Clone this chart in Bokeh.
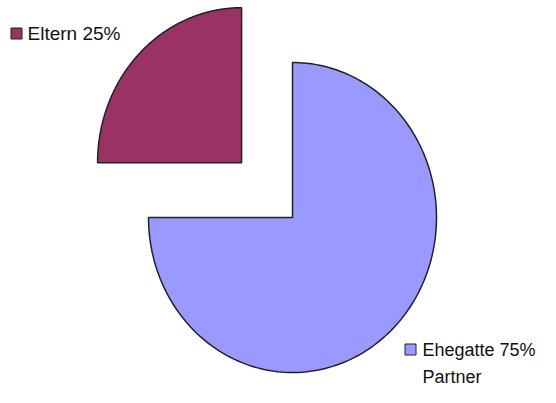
import numpy as np
from bokeh.plotting import figure
from bokeh.models import Range1d, Label, ColumnDataSource
from bokeh.embed import file_html
from bokeh.resources import INLINE

# Data
categories = ["Ehegatte", "Eltern"]
shares = [75, 25]
colors = ["#9999FF", "#993366"]
label_texts = ["Ehegatte 75%", "Eltern 25%"]
explode = [0.0, 0.5]
extra_text = "Partner"

W, H = 540, 387
# pixel scale of unit radius (slightly elliptical pie as in reference)
rx, ry = 144.0, 155.0
cx_px, cy_px = 292.0, 217.0  # pie centre in figure pixels (from top-left)

p = figure(width=W, height=H, output_backend="svg", toolbar_location=None,
           x_range=Range1d(-cx_px / rx, (W - cx_px) / rx),
           y_range=Range1d(-(H - cy_px) / ry, cy_px / ry),
           min_border=0, outline_line_color=None)
p.axis.visible = False
p.grid.visible = False
p.background_fill_color = "white"
p.border_fill_color = "white"

# build slices: start at 12 o'clock, go clockwise
total = float(sum(shares))
start = np.pi / 2
xs, ys = [], []
for v, ex in zip(shares, explode):
    sweep = 2 * np.pi * v / total
    a0, a1 = start, start - sweep
    mid = (a0 + a1) / 2
    ox, oy = ex * np.cos(mid), ex * np.sin(mid)
    t = np.linspace(a0, a1, 200)
    xs.append([ox] + list(ox + np.cos(t)) + [ox])
    ys.append([oy] + list(oy + np.sin(t)) + [oy])
    start = a1

src = ColumnDataSource(dict(xs=xs, ys=ys, color=colors))
p.patches("xs", "ys", source=src, fill_color="color", line_color="#222222", line_width=1.5)

def px2data(px, py):
    return (px - cx_px) / rx, (cy_px - py) / ry

font = "Liberation Sans"
# Eltern label (top-left)
mx, my = px2data(16, 33)
tx, ty = px2data(27, 33)
p.scatter([mx], [my], marker="square", size=11, fill_color=colors[1], line_color="#222222")
p.add_layout(Label(x=tx, y=ty, text=label_texts[1], text_font=font, text_font_size="19px",
                   text_baseline="middle", text_color="#111111"))
# Ehegatte label (bottom-right)
mx, my = px2data(410, 349)
tx, ty = px2data(422, 349)
p.scatter([mx], [my], marker="square", size=11, fill_color=colors[0], line_color="#222222")
p.add_layout(Label(x=tx, y=ty, text=label_texts[0], text_font=font, text_font_size="18px",
                   text_baseline="middle", text_color="#111111"))
tx2, ty2 = px2data(422, 376)
p.add_layout(Label(x=tx2, y=ty2, text=extra_text, text_font=font, text_font_size="18px",
                   text_baseline="middle", text_color="#111111"))

open("out.html", "w").write(file_html(p, INLINE))
